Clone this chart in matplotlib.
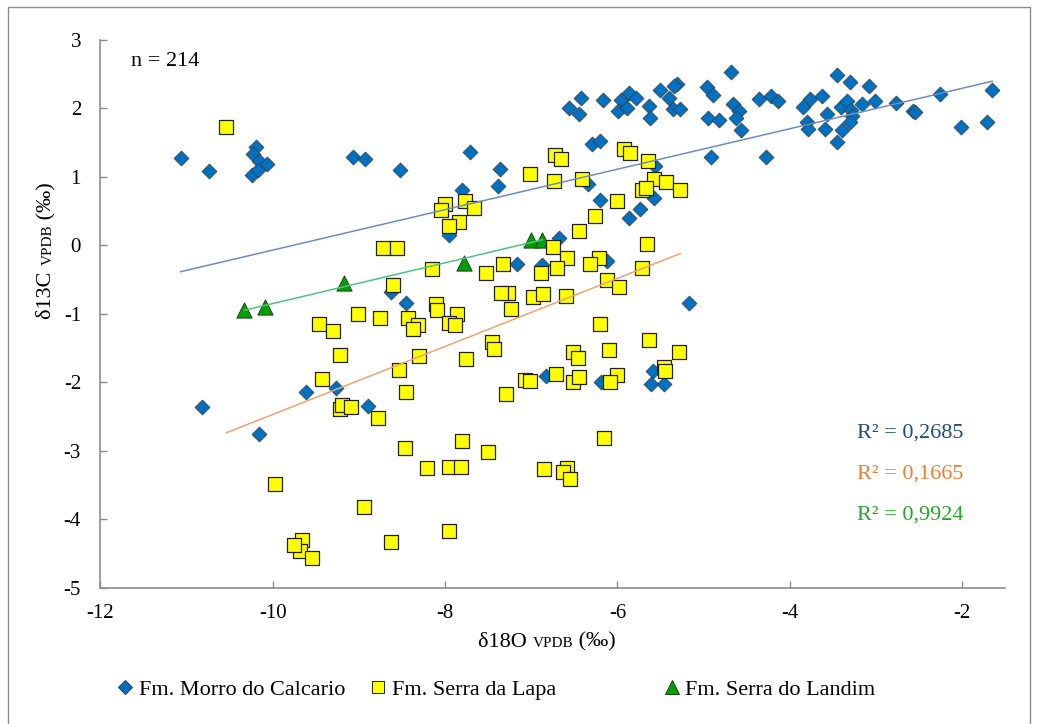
import numpy as np
import matplotlib
matplotlib.use("Agg")
import matplotlib.pyplot as plt
from matplotlib.lines import Line2D
from matplotlib.patches import Rectangle

# Fm. Morro do Calcario
morro_x = [-11.07, -10.74, -10.20, -10.23, -10.16, -10.07, -10.24, -10.17, -9.07, -8.93,
           -8.52, -7.71, -7.36, -7.39, -7.80, -7.95, -6.68, -7.16, -6.87, -6.12,
           -6.56, -6.42, -6.45, -6.17, -5.96, -5.87, -5.99, -5.89, -5.78, -5.63,
           -5.62, -5.50, -5.40, -5.31, -5.34, -5.36, -5.27, -6.29, -6.20, -5.56,
           -6.34, -6.20, -5.57, -5.74, -5.86, -4.96, -4.89, -4.68, -4.66, -4.59,
           -4.62, -4.95, -4.82, -4.56, -4.36, -4.22, -4.14, -4.91, -4.27, -3.84,
           -3.76, -3.63, -3.80, -3.79, -3.59, -3.57, -3.45, -3.30, -3.41, -3.33,
           -3.29, -3.28, -3.30, -3.39, -3.45, -3.16, -3.08, -3.01, -2.77, -2.57,
           -2.55, -2.25, -2.01, -1.71, -1.65, -10.82, -10.16, -9.62, -9.27, -8.89,
           -8.63, -8.45, -5.17, -6.83, -6.19, -5.59, -5.61, -5.46]
morro_y = [1.27, 1.08, 1.43, 1.33, 1.22, 1.18, 1.02, 1.10, 1.29, 1.26,
           1.09, 1.36, 1.11, 0.86, 0.81, 0.14, 0.10, -0.27, -0.29, -0.23,
           2.00, 2.15, 1.92, 2.11, 2.11, 2.22, 1.95, 2.00, 2.14, 2.03,
           1.86, 2.26, 2.14, 2.35, 2.32, 1.99, 1.98, 1.47, 1.52, 1.15,
           0.89, 0.66, 0.69, 0.53, 0.39, 2.30, 2.19, 2.53, 2.06, 1.96,
           1.85, 1.85, 1.82, 1.68, 2.13, 2.18, 2.10, 1.28, 1.28, 2.02,
           2.13, 2.17, 1.79, 1.69, 1.69, 1.92, 2.48, 2.38, 2.01, 2.10,
           1.97, 1.88, 1.80, 1.68, 1.51, 2.06, 2.32, 2.10, 2.07, 1.96,
           1.94, 2.20, 1.73, 1.79, 2.26, -2.36, -2.76, -2.15, -2.09, -2.35,
           -0.68, -0.84, -0.84, -1.91, -2.00, -1.84, -2.03, -2.03]

# Fm. Serra da Lapa
lapa_x = [-10.54, -9.98, -9.46, -9.30, -9.22, -9.43, -9.22, -9.20, -9.09, -8.78,
          -9.01, -8.76, -8.94, -9.66, -9.68, -9.55, -9.75, -8.63, -8.61, -7.02,
          -8.00, -8.05, -7.77, -7.66, -7.84, -7.95, -8.72, -8.56, -8.15, -7.53,
          -7.33, -6.89, -7.27, -7.35, -6.98, -7.24, -8.43, -8.32, -8.37, -8.11,
          -8.09, -7.86, -7.95, -7.89, -7.46, -7.43, -6.72, -6.66, -5.92, -5.85,
          -5.65, -5.57, -5.44, -5.27, -5.71, -5.67, -6.73, -6.41, -6.00, -6.26,
          -6.44, -6.75, -6.58, -6.21, -6.32, -6.70, -5.66, -5.71, -6.12, -5.98,
          -6.60, -6.86, -6.20, -5.63, -8.30, -7.76, -8.53, -8.45, -6.51, -6.46,
          -6.10, -5.29, -5.46, -5.45, -7.29, -7.07, -7.01, -6.71, -6.51, -6.44,
          -6.00, -6.08, -6.15, -7.80, -7.50, -8.47, -8.21, -7.95, -7.81, -6.85,
          -6.58, -6.63, -6.55, -7.95]
lapa_y = [1.73, -3.49, -1.16, -1.26, -1.60, -1.95, -2.40, -2.34, -2.37, -2.52,
          -1.00, -1.07, -3.83, -4.30, -4.47, -4.57, -4.38, -4.33, -0.58, 1.04,
          0.60, 0.51, 0.64, 0.54, 0.34, 0.28, -0.05, -0.05, -0.35, -0.41,
          -0.27, -0.41, -0.70, -0.70, -0.76, -0.93, -1.07, -1.17, -1.22, -0.86,
          -0.95, -1.01, -1.14, -1.17, -1.41, -1.52, 1.31, 1.26, 1.40, 1.35,
          1.22, 0.96, 0.92, 0.80, 0.80, 0.83, 0.94, 0.96, 0.65, 0.43,
          0.20, -0.03, -0.19, -0.19, -0.27, -0.34, 0.01, -0.34, -0.51, -0.62,
          -0.74, -0.72, -1.16, -1.39, -1.62, -1.67, -1.82, -2.14, -1.56, -1.65,
          -1.53, -1.56, -1.78, -1.84, -2.17, -1.97, -1.99, -1.89, -2.00, -1.93,
          -1.90, -2.00, -2.82, -2.86, -3.02, -2.97, -3.25, -3.24, -3.24, -3.27,
          -3.26, -3.31, -3.42, -4.18]

# Fm. Serra do Landim
landim_x = [-10.33, -10.09, -9.17, -7.78, -7.00, -6.87]
landim_y = [-0.95, -0.90, -0.56, -0.26, 0.07, 0.08]

r2_labels = ["R² = 0,2685", "R² = 0,1665", "R² = 0,9924"]

plt.rcParams['font.family'] = ['Liberation Serif', 'DejaVu Serif']
plt.rcParams['axes.unicode_minus'] = False

fig = plt.figure(figsize=(10.37, 7.24), dpi=100)
ax = fig.add_axes([0.0969, 0.1885, 0.8723, 0.7569])

ax.scatter(morro_x, morro_y, marker='D', s=58, c='#0070C0', edgecolors='#3a3a3a',
           linewidths=0.5, zorder=3, label='Fm. Morro do Calcario')
ax.scatter(landim_x, landim_y, marker='^', s=120, c='#00A000', edgecolors='#1f3f1f',
           linewidths=0.7, zorder=4, label='Fm. Serra do Landim')
ax.scatter(lapa_x, lapa_y, marker='s', s=100, c='#FFFF00', edgecolors='#222222',
           linewidths=0.9, zorder=5, label='Fm. Serra da Lapa')

# linear trendlines
trend_colors = ['#6f8cbf', '#f2a26e', '#4cc480']
for (xs, ys), col in zip([(morro_x, morro_y), (lapa_x, lapa_y), (landim_x, landim_y)], trend_colors):
    p = np.polyfit(xs, ys, 1)
    xx = np.array([min(xs), max(xs)])
    ax.plot(xx, np.polyval(p, xx), color=col, lw=1.1, zorder=6)

ax.set_xlim(-12, -1.5)
ax.set_ylim(-5, 3)
ax.set_xticks([-12, -10, -8, -6, -4, -2])
ax.set_yticks(range(-5, 4))
for s in ['top', 'right']:
    ax.spines[s].set_visible(False)
for s in ['left', 'bottom']:
    ax.spines[s].set_color('#8c8c8c')
    ax.spines[s].set_linewidth(1.2)
ax.tick_params(axis='both', direction='in', length=5, width=1, color='#8c8c8c',
               labelsize=15, labelcolor='black')
ax.tick_params(axis='x', pad=12)
ax.tick_params(axis='y', pad=14)

ax.text(0.0334, 0.9608, "n = 214", transform=ax.transAxes, fontsize=16,
        ha='left', va='center')

r2_colors = ['#1f4e79', '#ed7d31', '#22aa22']
for lab, col, yy in zip(r2_labels, r2_colors, [0.2825, 0.2071, 0.1323]):
    ax.text(0.9536, yy, lab, transform=ax.transAxes, fontsize=16, color=col,
            ha='right', va='center')

# x label with small "VPDB"
t1 = fig.text(0.461, 0.100, "δ18O ", fontsize=16, ha='left', va='bottom')
t2 = ax.annotate("VPDB", xy=(1, 0), xycoords=t1, xytext=(0, 1), textcoords='offset points',
                 fontsize=11, ha='left', va='bottom', annotation_clip=False)
t3 = ax.annotate(" (‰)", xy=(1, 0), xycoords=t2, xytext=(0, -1), textcoords='offset points',
                 fontsize=16, ha='left', va='bottom', annotation_clip=False)

# y label, rotated
u1 = fig.text(0.045, 0.56, "δ13C ", fontsize=16, rotation=90, ha='center', va='bottom')
u2 = ax.annotate("VPDB", xy=(1, 1), xycoords=u1, xytext=(-1, 0), textcoords='offset points',
                 fontsize=11, rotation=90, ha='right', va='bottom', annotation_clip=False)
u3 = ax.annotate(" (‰)", xy=(1, 1), xycoords=u2, xytext=(1, 0), textcoords='offset points',
                 fontsize=16, rotation=90, ha='right', va='bottom', annotation_clip=False)

# legend, three separate entries like the original
entries = [
    ('D', '#0070C0', '#3a3a3a', 'Fm. Morro do Calcario', 0.110, 7.0),
    ('s', '#FFFF00', '#222222', 'Fm. Serra da Lapa', 0.354, 9.0),
    ('^', '#00A000', '#1f3f1f', 'Fm. Serra do Landim', 0.637, 10.0),
]
for mk, fc, ec, lab, xl, ms in entries:
    h = Line2D([], [], linestyle='none', marker=mk, markersize=ms, markerfacecolor=fc,
               markeredgecolor=ec, markeredgewidth=0.7)
    fig.legend(handles=[h], labels=[lab], loc='center left', bbox_to_anchor=(xl, 0.047),
               frameon=False, fontsize=16, handlelength=1.0, handletextpad=0.1,
               borderpad=0, borderaxespad=0)

# outer chart frame
fig.patches.append(Rectangle((8 / 1037, -0.01), 1022 / 1037, 1.0, transform=fig.transFigure,
                             fill=False, edgecolor='#8c8c8c', lw=1.0))

fig.savefig("out.png", dpi=100)
